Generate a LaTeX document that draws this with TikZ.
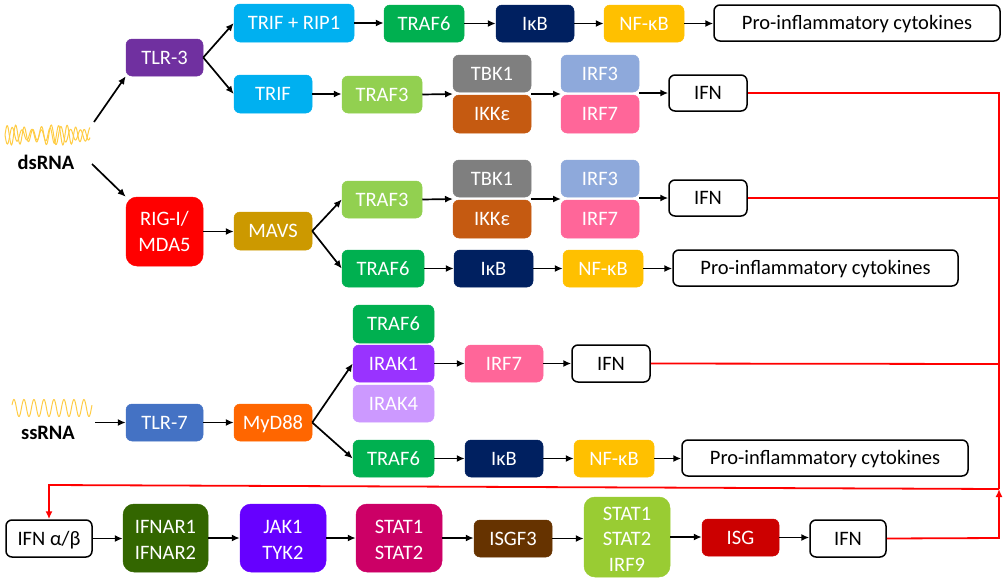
\documentclass[tikz,border=0pt]{standalone}
\usepackage{fontspec}
\setmainfont{Carlito}
\usetikzlibrary{arrows.meta}
\definecolor{cCyan}{HTML}{00B0F0}\definecolor{cGreen}{HTML}{00B050}\definecolor{cNavy}{HTML}{002060}
\definecolor{cGold}{HTML}{FFC000}\definecolor{cPurple}{HTML}{7030A0}\definecolor{cLime}{HTML}{92D050}
\definecolor{cGrey}{HTML}{7F7F7F}\definecolor{cRust}{HTML}{C55A11}\definecolor{cPeri}{HTML}{8EA9DB}
\definecolor{cPink}{HTML}{FF6699}\definecolor{cRed}{HTML}{FF0000}\definecolor{cOchre}{HTML}{CC9900}
\definecolor{cViolet}{HTML}{9933FF}\definecolor{cLilac}{HTML}{CC99FF}\definecolor{cBlue}{HTML}{4472C4}
\definecolor{cOrange}{HTML}{FF6600}\definecolor{cForest}{HTML}{336600}\definecolor{cIndigo}{HTML}{6600FF}
\definecolor{cMagenta}{HTML}{CC0066}\definecolor{cBrown}{HTML}{663300}\definecolor{cLeaf}{HTML}{99CC33}
\definecolor{cCrimson}{HTML}{CC0000}\definecolor{cWave}{HTML}{FFCC44}
\tikzset{
 basebox/.style={draw=#1,fill=#1,rounded corners=6pt,text=white,font=\fontsize{20.5}{25.5}\selectfont,align=center,inner sep=0pt,line width=.5pt},
 box/.style={basebox=#1,text height=15pt,text depth=2pt},
 bigbox/.style={basebox=#1,rounded corners=11pt},
 wbox/.style={draw=black,fill=white,rounded corners=6pt,text=black,font=\fontsize{20.5}{25.5}\selectfont,align=center,inner sep=0pt,line width=1.5pt,text height=15pt,text depth=2pt},
 conn/.style={draw=black,line width=1.7pt,-{Latex[length=8pt,width=7pt]}},
 rline/.style={draw=cRed,line width=1.8pt},
 rarrow/.style={rline,-{Latex[length=8pt,width=7pt]}},
 wave/.style={draw=cWave,line width=1pt,smooth},
 lbl/.style={font=\fontsize{20.5}{25}\selectfont\bfseries,inner sep=0pt}
}
% \bx{name}{style}{x1}{y1}{x2}{y2}{text}
\newcommand{\bx}[7]{\node[#2,minimum width={(#5-#3)*1pt},minimum height={(#6-#4)*1pt}] (#1) at ({(#3+#5)/2},{(#4+#6)/2}) {#7};}
\newcommand{\hc}[2]{\draw[conn] (#1.east) -- (#1.east -| #2.west);}
\newcommand{\dn}{\rule{0pt}{17pt}}
\begin{document}
\begin{tikzpicture}[x=1pt,y=-1pt]
\useasboundingbox (0,0) rectangle (1007,579);
% row 1
\bx{trifrip}{box=cCyan}{234}{4}{354}{42}{TRIF + RIP1}
\bx{trafA}{box=cGreen}{384}{5}{464}{42}{TRAF6}
\bx{ikbA}{box=cNavy}{496}{5}{574}{42}{I\char"03BA B}
\bx{nfA}{box=cGold}{604}{5}{684}{42}{NF-\char"03BA B}
\bx{proA}{wbox}{714}{5}{1000}{41}{Pro-inflammatory cytokines}
\bx{tlrC}{box=cPurple}{126}{39}{203}{76}{TLR-3}
\bx{trif}{box=cCyan}{234}{75}{312}{113}{TRIF}
\bx{trafB}{box=cLime}{342}{76}{422}{113}{TRAF3}
\bx{tbkA}{box=cGrey}{453}{55}{531}{92}{TBK1}
\bx{ikkA}{box=cRust}{453}{95}{531}{133}{IKK\char"03B5}
\bx{irfA}{box=cPeri}{561}{55}{639}{92}{IRF3}
\bx{irfB}{box=cPink}{561}{95}{639}{133}{IRF7}
\bx{ifnA}{wbox}{669}{75}{747}{111}{IFN}
% row 2
\bx{rig}{bigbox=cRed}{126}{197}{203}{266}{RIG-I/\\[1pt]MDA5}
\bx{mavs}{box=cOchre}{234}{212}{312}{250}{MAVS}
\bx{trafC}{box=cLime}{342}{181}{422}{218}{TRAF3}
\bx{tbkB}{box=cGrey}{453}{160}{531}{197}{TBK1}
\bx{ikkB}{box=cRust}{453}{200}{531}{238}{IKK\char"03B5}
\bx{irfC}{box=cPeri}{561}{160}{639}{197}{IRF3}
\bx{irfD}{box=cPink}{561}{200}{639}{238}{IRF7}
\bx{ifnB}{wbox}{669}{180}{747}{216}{IFN}
\bx{trafD}{box=cGreen}{342}{250}{424}{287}{TRAF6}
\bx{ikbB}{box=cNavy}{454}{250}{533}{287}{I\char"03BA B}
\bx{nfB}{box=cGold}{563}{250}{643}{287}{NF-\char"03BA B}
\bx{proB}{wbox}{673}{250}{958}{286}{Pro-inflammatory cytokines}
% row 3
\bx{trafE}{box=cGreen}{353}{305}{434}{343}{TRAF6}
\bx{irak}{box=cViolet}{353}{345}{434}{382}{IRAK1}
\bx{irakB}{box=cLilac}{353}{385}{434}{422}{IRAK4}
\bx{irfE}{box=cPink}{465}{345}{543}{382}{IRF7}
\bx{ifnC}{wbox}{572}{345}{650}{382}{IFN}
\bx{tlrS}{box=cBlue}{126}{404}{203}{441}{TLR-7}
\bx{myd}{box=cOrange}{234}{404}{312}{441}{MyD88}
\bx{trafF}{box=cGreen}{353}{440}{434}{477}{TRAF6}
\bx{ikbC}{box=cNavy}{465}{440}{543}{477}{I\char"03BA B}
\bx{nfC}{box=cGold}{574}{440}{654}{477}{NF-\char"03BA B}
\bx{proC}{wbox}{682}{440}{968}{476}{Pro-inflammatory cytokines}
% bottom row
\bx{ifnab}{wbox}{6}{520}{92}{557}{IFN \char"03B1/\char"03B2}
\bx{ifnar}{bigbox=cForest}{123}{504}{208}{572}{\dn IFNAR1\\IFNAR2}
\bx{jak}{bigbox=cIndigo}{240}{504}{326}{572}{\dn JAK1\\TYK2}
\bx{stat}{bigbox=cMagenta}{356}{504}{442}{572}{\dn STAT1\\STAT2}
\bx{isgf}{box=cBrown}{474}{520}{552}{557}{ISGF3}
\bx{statB}{bigbox=cLeaf}{584}{497}{670}{577}{\dn STAT1\\STAT2\\IRF9}
\bx{isg}{box=cCrimson}{702}{519}{779}{556}{ISG}
\bx{ifnD}{wbox}{810}{520}{886}{557}{IFN}
% rna
\draw[wave] plot[domain=5:90,samples=170] (\x,{135-10*sin((\x-5)*42)*(0.75+0.25*sin(\x*7))});
\draw[wave] plot[domain=5:90,samples=170] (\x,{135+10*sin((\x-5)*37)*(0.75+0.25*cos(\x*7))});
\draw[wave] plot[domain=12:92,samples=170] (\x,{408-8.5*sin((\x-12)*36+20)});
\node[lbl] (ds) at (46,162) {dsRNA};
\node[lbl] (ss) at (48,433) {ssRNA};
\coordinate (dsU) at (94,122);\coordinate (dsD) at (92,164);\coordinate (ssR) at (95,422.5);
% connectors
\draw[conn] (dsU) -- (tlrC.south west);
\draw[conn] (dsD) -- (rig.north west);
\draw[conn] (tlrC.east) -- (trifrip.west);
\draw[conn] (tlrC.east) -- (trif.west);
\hc{trifrip}{trafA}
\hc{trafA}{ikbA}
\hc{ikbA}{nfA}
\hc{nfA}{proA}
\hc{trif}{trafB}
\coordinate (aL) at (453,94);\coordinate (aM) at (531,94);\coordinate (aN) at (561,94);\coordinate (aO) at (639,93);
\draw[conn] (trafB.east) -- (aL);
\draw[conn] (aM) -- (aN);
\draw[conn] (aO) -- (ifnA.west);
\hc{rig}{mavs}
\draw[conn] (mavs.east) -- (trafC.west);
\draw[conn] (mavs.east) -- (trafD.west);
\coordinate (bL) at (453,199);\coordinate (bM) at (531,199);\coordinate (bN) at (561,199);\coordinate (bO) at (639,198);
\draw[conn] (trafC.east) -- (bL);
\draw[conn] (bM) -- (bN);
\draw[conn] (bO) -- (ifnB.west);
\hc{trafD}{ikbB}
\hc{ikbB}{nfB}
\hc{nfB}{proB}
\draw[conn] (ssR) -- (tlrS.west);
\hc{tlrS}{myd}
\draw[conn] (myd.east) -- (irak.west);
\draw[conn] (myd.east) -- (trafF.west);
\hc{irak}{irfE}
\hc{irfE}{ifnC}
\hc{trafF}{ikbC}
\hc{ikbC}{nfC}
\hc{nfC}{proC}
\hc{ifnab}{ifnar}
\hc{ifnar}{jak}
\hc{jak}{stat}
\hc{stat}{isgf}
\hc{isgf}{statB}
\hc{statB}{isg}
\hc{isg}{ifnD}
% red feedback
\coordinate (rTop) at (999,93);\coordinate (rBot) at (999,489);\coordinate (rCorner) at (999,538);\coordinate (rLeft) at (49,485);
\coordinate (rB) at (999,198);\coordinate (rC) at (999,364);
\draw[rline] (ifnA.east) -- (rTop) -- (rBot);
\draw[rline] (ifnB.east) -- (rB);
\draw[rline] (ifnC.east) -- (rC);
\draw[rarrow] (ifnD.east) -- (rCorner) -- (rBot);
\draw[rarrow] (rBot) -- (rLeft) -- (ifnab.north -| rLeft);
\end{tikzpicture}
\end{document}
